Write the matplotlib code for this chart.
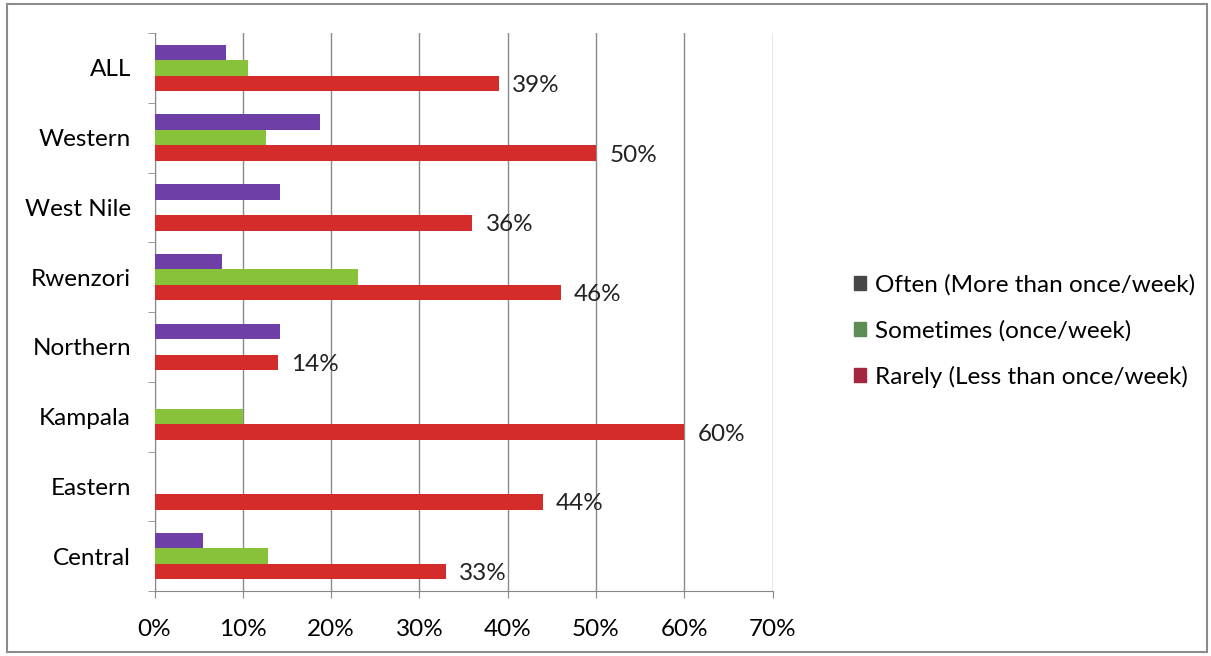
import numpy as np
import matplotlib.pyplot as plt
from matplotlib.patches import Patch, Rectangle

regions = ["ALL", "Western", "West Nile", "Rwenzori", "Northern", "Kampala", "Eastern", "Central"]
often = [8.1, 18.8, 14.2, 7.7, 14.2, 0, 0, 5.5]
sometimes = [10.6, 12.6, 0, 23.1, 0, 10.0, 0, 12.9]
rarely = [39, 50, 36, 46, 14, 60, 44, 33]
series_names = ["Often (More than once/week)", "Sometimes (once/week)", "Rarely (Less than once/week)"]


def main():
    plt.rcParams['font.family'] = ['Lato', 'DejaVu Sans']
    W, H = 1211, 656
    fig = plt.figure(figsize=(W / 100, H / 100), dpi=100)
    fig.patches.append(Rectangle((7 / W, 4 / H), 1200 / W, 648 / H, transform=fig.transFigure,
                                 fill=False, edgecolor="#8c8c8c", linewidth=1.5))
    ax = fig.add_axes([154.5 / W, (H - 591) / H, 618 / W, 558 / H])

    n = len(regions)
    pos = np.arange(n)[::-1]
    h = 0.222
    ax.barh(pos + h, often, height=h, color="#6f3fa8", linewidth=0, zorder=3)
    ax.barh(pos, sometimes, height=h, color="#88c23a", linewidth=0, zorder=3)
    ax.barh(pos - h, rarely, height=h, color="#d42b2b", linewidth=0, zorder=3)

    for p, v in zip(pos, rarely):
        ax.text(v + 1.5, p - h - 0.03, f"{v:.0f}%", va="center", ha="left", fontsize=17.5, color="#222222")

    ax.set_xlim(0, 70)
    ax.set_ylim(-0.5, n - 0.5)
    ax.set_xticks(np.arange(0, 71, 10))
    ax.set_xticklabels([f"{t}%" for t in range(0, 71, 10)], fontsize=17.5)
    ax.set_yticks(pos)
    ax.set_yticklabels(regions, fontsize=17.5)
    ax.set_yticks(np.arange(-0.5, n, 1), minor=True)
    ax.tick_params(axis="y", which="major", length=0, pad=17)
    ax.tick_params(axis="y", which="minor", length=5, color="#888888")
    ax.tick_params(axis="x", length=5, color="#888888", pad=15)
    ax.grid(axis="x", color="#8a8a8a", linewidth=1, zorder=0)
    for s in ["top", "right"]:
        ax.spines[s].set_visible(False)
    ax.spines["left"].set_color("#888888")
    ax.spines["bottom"].set_color("#888888")

    handles = [Patch(color="#474747"), Patch(color="#5d8c55"), Patch(color="#a3283f")]
    fig.legend(handles, series_names, loc="center left", bbox_to_anchor=(832 / W, 1 - 331 / H),
               frameon=False, fontsize=17.5, handlelength=0.5, handleheight=0.5,
               handletextpad=0.35, labelspacing=1.0)

    fig.savefig("out.png", dpi=100)


if __name__ == "__main__":
    main()
